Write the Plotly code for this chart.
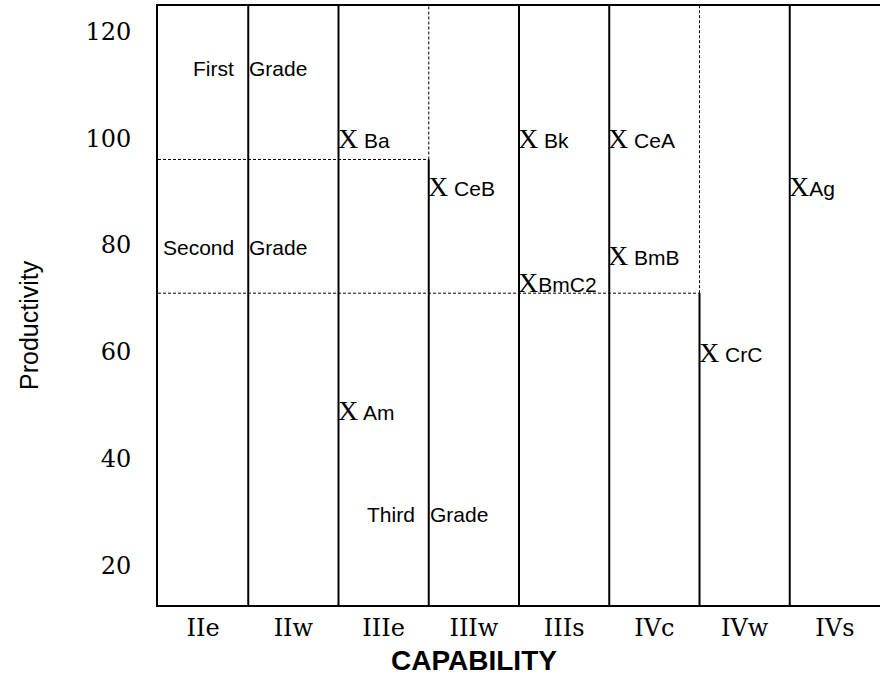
import plotly.graph_objects as go

# Land capability classes along the horizontal axis
classes = ["IIe", "IIw", "IIIe", "IIIw", "IIIs", "IVc", "IVw", "IVs"]
prod_ticks = [20, 40, 60, 80, 100, 120]

# Soil map units: name, capability class, productivity rating
soils = ["Ba", "CeB", "Bk", "BmC2", "CeA", "BmB", "Ag", "Am", "CrC"]
soil_class = ["IIIe", "IIIw", "IIIs", "IIIs", "IVc", "IVc", "IVs", "IIIe", "IVw"]
soil_prod = [100, 91, 100, 73, 100, 78, 91, 49, 60]
tight_labels = {"BmC2", "Ag"}

# Grade zones: lower productivity limit and last capability class included
grade_names = ["First", "Second", "Third"]
grade_floor = [96, 71]
grade_last = ["IIIe", "IVc"]
grade_label_y = [113, 79.6, 29.6]
grade_label_class = ["IIe", "IIe", "IIIe"]

SERIF = "DejaVu Serif, Century Schoolbook, serif"
MARK_SERIF = "Liberation Serif, Times New Roman, serif"
SANS = "Liberation Sans, Arial, sans-serif"

col = {c: i for i, c in enumerate(classes)}
y_lo, y_hi = 12.7, 124.7
x_lo, x_hi = -0.5, len(classes) - 0.5

W, H = 880, 677
L, R, T, B = 158, 0, 6, 72
pw, ph = W - L - R, H - T - B


def px_to_paper(px, py):
    """Convert a pixel position on the page to paper coordinates."""
    return (px - L) / pw, (H - B - py) / ph


fig = go.Figure()

shapes = []
solid = dict(color="black", width=2)
dashed = dict(color="black", width=1, dash="3px,2px")

# Column dividers: solid up to a grade floor where a zone ends, dashed above it
for i in range(len(classes) - 1):
    xb = i + 0.5
    top = y_hi
    for floor, last in zip(grade_floor, grade_last):
        if col[last] == i:
            top = floor
            shapes.append(dict(type="line", xref="x", yref="y", x0=xb, x1=xb,
                               y0=floor, y1=y_hi, line=dashed))
    shapes.append(dict(type="line", xref="x", yref="y", x0=xb, x1=xb,
                       y0=y_lo, y1=top, line=solid))

# Horizontal grade limits
for floor, last in zip(grade_floor, grade_last):
    shapes.append(dict(type="line", xref="x", yref="y", x0=x_lo, x1=col[last] + 0.5,
                       y0=floor, y1=floor, line=dashed))

annotations = []

# Soil markers
for name, cls, val in zip(soils, soil_class, soil_prod):
    sep = "" if name in tight_labels else " "
    annotations.append(dict(
        x=col[cls] - 0.5, y=val, xref="x", yref="y",
        xanchor="left", yanchor="middle", xshift=-3, showarrow=False,
        text=f"X<span style='font-family:{SANS};font-size:21px'>{sep}{name}</span>",
        font=dict(family=MARK_SERIF, size=28, color="black"),
    ))

# Grade zone labels
for g, gy, gc in zip(grade_names, grade_label_y, grade_label_class):
    xb = col[gc] + 0.5
    annotations.append(dict(x=xb, y=gy, xref="x", yref="y", xanchor="right",
                            yanchor="middle", xshift=-12, showarrow=False, text=g,
                            font=dict(family=SANS, size=21, color="black")))
    annotations.append(dict(x=xb, y=gy, xref="x", yref="y", xanchor="left",
                            yanchor="middle", xshift=-1, showarrow=False, text="Grade",
                            font=dict(family=SANS, size=21, color="black")))

# Axis titles
tx, ty = px_to_paper(474, 660)
annotations.append(dict(x=tx, y=ty, xref="paper", yref="paper", showarrow=False,
                        text="<b>CAPABILITY</b>", xanchor="center", yanchor="middle",
                        font=dict(family=SANS, size=28, color="black")))
tx, ty = px_to_paper(29, 325)
annotations.append(dict(x=tx, y=ty, xref="paper", yref="paper", showarrow=False,
                        text="Productivity", textangle=-90,
                        xanchor="center", yanchor="middle",
                        font=dict(family=SANS, size=25, color="black")))

fig.update_layout(
    width=W, height=H,
    margin=dict(l=L, r=R, t=T, b=B),
    paper_bgcolor="white", plot_bgcolor="white",
    shapes=shapes, annotations=annotations,
    showlegend=False,
    xaxis=dict(type="linear", range=[x_lo, x_hi], tickvals=list(range(len(classes))),
               ticktext=classes, showgrid=False, zeroline=False, showline=True,
               mirror=True, linecolor="black", linewidth=2, ticks="",
               ticklabelstandoff=0,
               tickfont=dict(family=SERIF, size=24, color="black")),
    yaxis=dict(type="linear", range=[y_lo, y_hi], tickvals=prod_ticks,
               showgrid=False, zeroline=False, showline=True, mirror=False,
               linecolor="black", linewidth=2, ticks="", ticklabelstandoff=20,
               tickfont=dict(family=SERIF, size=24, color="black")),
)

fig.write_html("out.html")
